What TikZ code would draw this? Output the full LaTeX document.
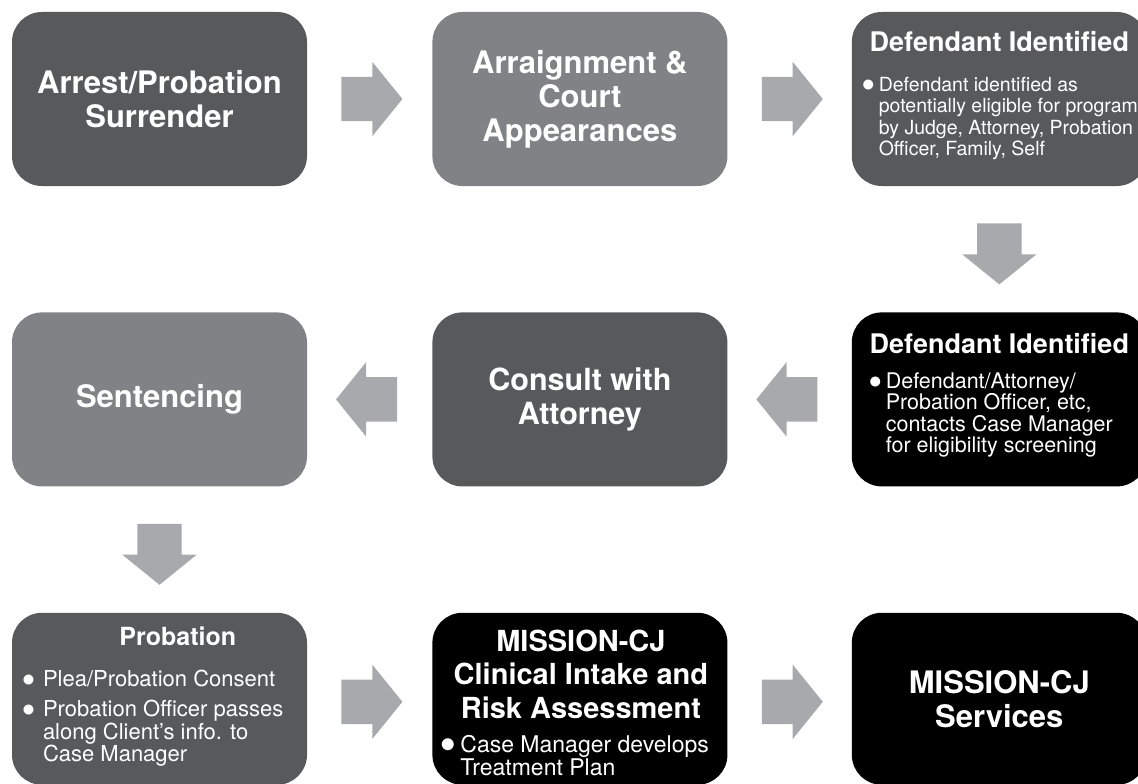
\documentclass[tikz,border=0pt]{standalone}
\usepackage{fontspec}
\setmainfont{TeX Gyre Heros}
\usetikzlibrary{positioning,calc,shapes.arrows}

\definecolor{darkbox}{HTML}{58595B}
\definecolor{midbox}{HTML}{808285}
\definecolor{arrowgray}{HTML}{A7A9AC}

\newcommand{\dotitem}[1]{\makebox[#1][l]{\scalebox{1.25}{$\bullet$}}}

\begin{document}
\begin{tikzpicture}
	[x=1pt, y=-1pt, node distance=125pt,
	 box/.style = {rounded corners=30pt, minimum width=295pt, minimum height=174pt, inner sep=0pt,
	               text=white, align=center, font=\bfseries\fontsize{31}{34}\selectfont},
	 head/.style = {inner sep=0pt, text=white, align=center, font=\bfseries\fontsize{27}{31}\selectfont},
	 bul/.style = {inner sep=0pt, text=white, align=left, anchor=north west},
	 flow/.style = {shape=single arrow, fill=arrowgray, minimum height=61pt, inner xsep=0pt, inner ysep=22pt,
	                single arrow head extend=15pt, single arrow tip angle=102, anchor=tail}]
	\useasboundingbox (0,0) rectangle (1138,784);

	% top row
	\node[box, fill=darkbox] (arrest) at (159.5,99) {Arrest/Probation\\Surrender};
	\node[box, fill=midbox] (court) [right=125pt of arrest] {Arraignment \&\\Court\\Appearances};
	\node[box, fill=darkbox] (ident) [right=124pt of court] {};
	\node[head] (identH) at ($(ident.north)+(0,40)$) [anchor=base] {Defendant Identified};
	\node[bul, font=\fontsize{19.5}{21.5}\selectfont] (identB) at ($(ident.north west)+(10,65)$)
	    {\dotitem{17pt}Defendant identified as\\
	     \hspace*{17pt}potentially eligible for program\\
	     \hspace*{17pt}by Judge, Attorney, Probation\\
	     \hspace*{17pt}Officer, Family, Self};

	% middle row
	\node[box, fill=black] (screen) [below=126pt of ident] {};
	\node[head] (screenH) at ($(screen.north)+(0,41)$) [anchor=base] {Defendant Identified};
	\node[bul, font=\fontsize{21.5}{21.5}\selectfont] (screenB) at ($(screen.north west)+(17,60)$)
	    {\dotitem{17pt}Defendant/Attorney/\\
	     \hspace*{17pt}Probation Officer, etc,\\
	     \hspace*{17pt}contacts Case Manager\\
	     \hspace*{17pt}for eligibility screening};
	\node[box, fill=darkbox, font=\bfseries\fontsize{30.5}{34}\selectfont] (consult) [left=124pt of screen] {Consult with\\Attorney};
	\node[box, fill=midbox] (sentence) [left=125pt of consult] {Sentencing};

	% bottom row
	\node[box, fill=darkbox, minimum height=172pt] (probation) [below=126pt of sentence] {};
	\node[head, font=\bfseries\fontsize{25}{29}\selectfont] (probationH) at ($(probation.north west)+(166,33)$) [anchor=base] {Probation};
	\node[bul, font=\fontsize{22}{22.5}\selectfont] (probationB) at ($(probation.north west)+(10,57)$)
	    {\dotitem{21pt}Plea/Probation Consent\\[8pt]
	     \dotitem{21pt}Probation Officer passes\\
	     \hspace*{21pt}along Client's info. to\\
	     \hspace*{21pt}Case Manager};
	\node[box, fill=black, minimum height=172pt] (intake) [right=125pt of probation] {};
	\node[head, font=\bfseries\fontsize{29}{33.5}\selectfont] (intakeH) at ($(intake.north)+(1,17)$) [anchor=north]
	    {MISSION-CJ\\Clinical Intake and\\Risk Assessment};
	\node[bul, font=\fontsize{23}{23}\selectfont] (intakeB) at ($(intake.north west)+(8,123)$)
	    {\dotitem{20pt}Case Manager develops\\
	     \hspace*{20pt}Treatment Plan};
	\node[box, fill=black, minimum height=172pt] (services) [right=124pt of intake] {MISSION-CJ\\Services};

	% arrows
	\node[flow] (a1) at ($(arrest.east)+(34,0)$) {};
	\node[flow] (a2) at ($(court.east)+(34,0)$) {};
	\node[flow, rotate=-90] (a3) at ($(ident.south)+(0,37)$) {};
	\node[flow, rotate=180] (a4) at ($(screen.west)+(-34,0)$) {};
	\node[flow, rotate=180] (a5) at ($(consult.west)+(-35,0)$) {};
	\node[flow, rotate=-90] (a6) at ($(sentence.south)+(0,37)$) {};
	\node[flow] (a7) at ($(probation.east)+(34,3)$) {};
	\node[flow] (a8) at ($(intake.east)+(34,3)$) {};
\end{tikzpicture}
\end{document}
